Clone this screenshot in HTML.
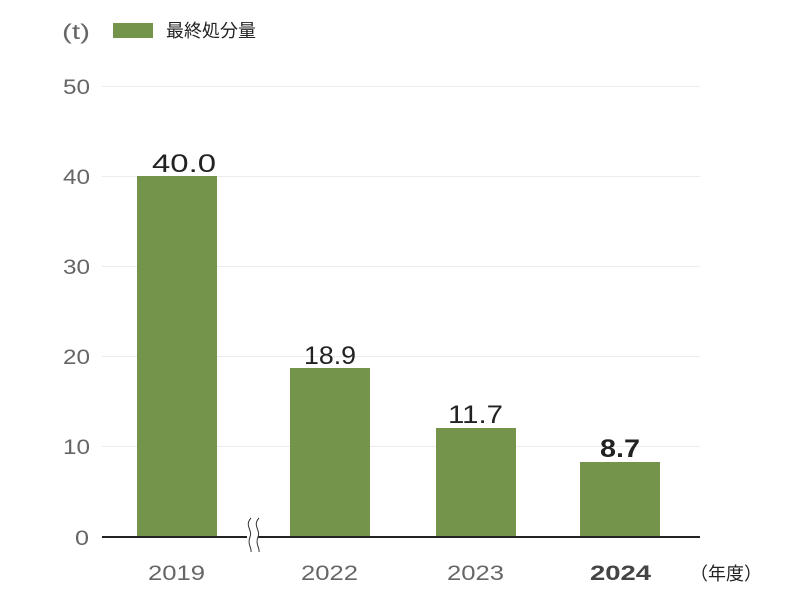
<!DOCTYPE html>
<html><head><meta charset="utf-8"><style>
body{margin:0;background:#fff;}
svg text{font-family:"Liberation Sans","Noto Sans CJK JP",sans-serif;}
</style></head><body>
<svg width="800" height="601" viewBox="0 0 800 601" xmlns="http://www.w3.org/2000/svg">
<rect width="800" height="601" fill="#fff"/>
<g stroke="#ececec" stroke-width="1">
<line x1="102" y1="86.5" x2="700" y2="86.5"/>
<line x1="102" y1="176.5" x2="700" y2="176.5"/>
<line x1="102" y1="266.5" x2="700" y2="266.5"/>
<line x1="102" y1="356.5" x2="700" y2="356.5"/>
<line x1="102" y1="446.5" x2="700" y2="446.5"/>
</g>
<g font-size="21" fill="#666">
<text x="63" y="94" textLength="27" lengthAdjust="spacingAndGlyphs">50</text>
<text x="63" y="184" textLength="27" lengthAdjust="spacingAndGlyphs">40</text>
<text x="63" y="274" textLength="27" lengthAdjust="spacingAndGlyphs">30</text>
<text x="63" y="364" textLength="27" lengthAdjust="spacingAndGlyphs">20</text>
<text x="63" y="454" textLength="27" lengthAdjust="spacingAndGlyphs">10</text>
<text x="75" y="545" textLength="14" lengthAdjust="spacingAndGlyphs">0</text>
</g>
<text x="62" y="39" font-size="21" fill="#666" textLength="28" lengthAdjust="spacingAndGlyphs">(t)</text>
<rect x="113" y="23" width="40" height="15" fill="#74944b"/>
<text x="166" y="37" font-size="18" fill="#222">最終処分量</text>
<g fill="#74944b">
<rect x="137" y="176" width="80" height="361"/>
<rect x="290" y="368" width="80" height="169"/>
<rect x="436" y="428" width="80" height="109"/>
<rect x="580" y="462" width="80" height="75"/>
</g>
<g font-size="25" fill="#222">
<text x="152" y="172" textLength="64" lengthAdjust="spacingAndGlyphs">40.0</text>
<text x="304" y="364" textLength="52" lengthAdjust="spacingAndGlyphs">18.9</text>
<text x="448" y="423" textLength="55" lengthAdjust="spacingAndGlyphs">11.7</text>
<text x="600" y="457" font-weight="bold" textLength="40" lengthAdjust="spacingAndGlyphs">8.7</text>
</g>
<line x1="102" y1="537" x2="247" y2="537" stroke="#222" stroke-width="2"/>
<line x1="258" y1="537" x2="700" y2="537" stroke="#222" stroke-width="2"/>
<path d="M251 518 C244 526,253 530,250 537 C247 544,252 548,251 552" fill="none" stroke="#333" stroke-width="1"/>
<path d="M259 518 C252 526,261 530,258 537 C255 544,260 548,259 552" fill="none" stroke="#333" stroke-width="1"/>
<g font-size="21" fill="#666">
<text x="148" y="580" textLength="57" lengthAdjust="spacingAndGlyphs">2019</text>
<text x="301" y="580" textLength="57" lengthAdjust="spacingAndGlyphs">2022</text>
<text x="447" y="580" textLength="57" lengthAdjust="spacingAndGlyphs">2023</text>
<text x="590" y="580" font-weight="bold" fill="#444" textLength="61" lengthAdjust="spacingAndGlyphs">2024</text>
</g>
<text x="690" y="580" font-size="18" fill="#222">（年度）</text>
</svg>
</body></html>
